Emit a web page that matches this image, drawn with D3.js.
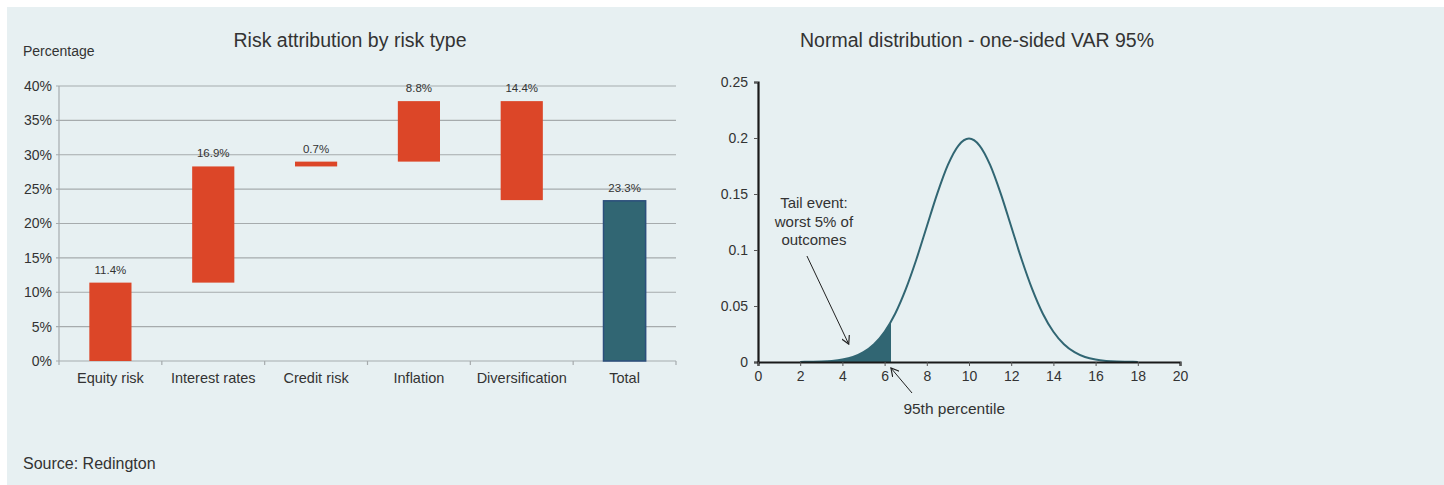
<!DOCTYPE html>
<html>
<head>
<meta charset="utf-8">
<script src="https://cdn.jsdelivr.net/npm/d3@7"></script>
<style>
body { margin: 0; background: #fff; }
text { font-family: "Liberation Sans", Arial, sans-serif; fill: #333; }
.grid line { stroke: #a6abad; stroke-width: 1.2; }
</style>
</head>
<body>
<div id="chart"></div>
<script>
// left chart data
var categories = ["Equity risk", "Interest rates", "Credit risk", "Inflation", "Diversification", "Total"];
var contributions = [11.4, 16.9, 0.7, 8.8, -14.4, 23.3];
var pctTicks = [0, 5, 10, 15, 20, 25, 30, 35, 40];

// right chart data (density)
var xs = [2, 2.5, 3, 3.5, 4, 4.5, 5, 5.5, 6, 6.5, 7, 7.5, 8, 8.5, 9, 9.5, 10,
          10.5, 11, 11.5, 12, 12.5, 13, 13.5, 14, 14.5, 15, 15.5, 16, 16.5, 17, 17.5, 18];
var density = [0.0001, 0.0002, 0.0004, 0.0010, 0.0022, 0.0045, 0.0088, 0.0159, 0.0270, 0.0431, 0.0648, 0.0913, 0.1210, 0.1506, 0.1760, 0.1933, 0.1995,
               0.1933, 0.1760, 0.1506, 0.1210, 0.0913, 0.0648, 0.0431, 0.0270, 0.0159, 0.0088, 0.0045, 0.0022, 0.0010, 0.0004, 0.0002, 0.0001];
var tailCut = 6.3;
var xTicks = [0, 2, 4, 6, 8, 10, 12, 14, 16, 18, 20];
var yTicks = [0, 0.05, 0.1, 0.15, 0.2, 0.25];

var width = 1444, height = 485;
var svg = d3.select("#chart").append("svg").attr("width", width).attr("height", height);

svg.append("rect").attr("x", 7).attr("y", 7).attr("width", width - 7).attr("height", height - 7).attr("fill", "#e7f0f2");

// ---------- waterfall ----------
var bars = [];
var run = 0;
contributions.forEach(function(v, i) {
	if (i == contributions.length - 1) {
		bars.push({ cat: categories[i], lo: 0, hi: v, label: v, total: true });
	} else {
		var a = run, b = run + v;
		bars.push({ cat: categories[i], lo: Math.min(a, b), hi: Math.max(a, b), label: Math.abs(v), total: false });
		run = b;
	}
});

var x = d3.scaleBand().domain(categories).range([59, 676]).paddingInner(0.59).paddingOuter(0.295);
var y = d3.scaleLinear().domain([0, 40]).range([361, 86]);
var step = x.step();

var left = svg.append("g");

left.append("g").attr("class", "grid")
	.selectAll("line").data(pctTicks).enter().append("line")
	.attr("x1", 56).attr("x2", 676)
	.attr("y1", function(d) { return y(d); }).attr("y2", function(d) { return y(d); });

left.append("line").attr("x1", 59).attr("x2", 59).attr("y1", y(40)).attr("y2", y(0))
	.attr("stroke", "#a6abad").attr("stroke-width", 1.2);

// band boundary ticks
left.append("g").selectAll("line").data(d3.range(categories.length + 1)).enter().append("line")
	.attr("x1", function(i) { return 59 + i * step; }).attr("x2", function(i) { return 59 + i * step; })
	.attr("y1", y(0)).attr("y2", y(0) + 4)
	.attr("stroke", "#a6abad").attr("stroke-width", 1.2);

var yAxisL = d3.axisLeft(y).tickValues(pctTicks).tickSize(0).tickPadding(7).tickFormat(function(d) { return d + "%"; });
left.append("g").attr("transform", "translate(59,0)").call(yAxisL)
	.call(function(g) { g.select(".domain").remove(); })
	.selectAll("text").style("font-size", "14px").style("fill", "#333");

var xAxisL = d3.axisBottom(x).tickSize(0).tickPadding(12);
left.append("g").attr("transform", "translate(0," + y(0) + ")").call(xAxisL)
	.call(function(g) { g.select(".domain").remove(); })
	.selectAll("text").style("font-size", "14.5px").style("fill", "#333");

left.selectAll(".bar").data(bars).enter().append("rect")
	.attr("class", "bar")
	.attr("x", function(d) { return x(d.cat); })
	.attr("width", x.bandwidth())
	.attr("y", function(d) { return y(d.hi); })
	.attr("height", function(d) { return Math.max(y(d.lo) - y(d.hi), 1); })
	.attr("fill", function(d) { return d.total ? "#316673" : "#dc4628"; })
	.attr("stroke", function(d) { return d.total ? "#2c4f7c" : "none"; })
	.attr("stroke-width", 1.5);

left.selectAll(".lbl").data(bars).enter().append("text")
	.attr("class", "lbl")
	.attr("x", function(d) { return x(d.cat) + x.bandwidth() / 2; })
	.attr("y", function(d) { return y(d.hi) - 9; })
	.attr("text-anchor", "middle")
	.style("font-size", "11.5px")
	.text(function(d) { return d.label.toFixed(1) + "%"; });

svg.append("text").attr("x", 350).attr("y", 47).attr("text-anchor", "middle")
	.style("font-size", "19.5px").text("Risk attribution by risk type");
svg.append("text").attr("x", 23).attr("y", 56).style("font-size", "14px").text("Percentage");

// ---------- normal distribution ----------
var xr = d3.scaleLinear().domain([0, 20]).range([758, 1180]);
var yr = d3.scaleLinear().domain([0, 0.25]).range([362, 82]);
var pts = xs.map(function(v, i) { return [v, density[i]]; });

var right = svg.append("g");

right.append("clipPath").attr("id", "tail").append("rect")
	.attr("x", xr(0)).attr("y", yr(0.25)).attr("width", xr(tailCut) - xr(0)).attr("height", yr(0) - yr(0.25));

right.append("path").datum(pts)
	.attr("clip-path", "url(#tail)")
	.attr("fill", "#316673")
	.attr("d", d3.area().x(function(d) { return xr(d[0]); }).y0(yr(0)).y1(function(d) { return yr(d[1]); }).curve(d3.curveMonotoneX));

right.append("path").datum(pts)
	.attr("fill", "none").attr("stroke", "#316673").attr("stroke-width", 2)
	.attr("d", d3.line().x(function(d) { return xr(d[0]); }).y(function(d) { return yr(d[1]); }).curve(d3.curveMonotoneX));

var yAxisR = d3.axisLeft(yr).tickValues(yTicks).tickSize(4).tickPadding(6).tickFormat(function(d) { return d; });
var gy = right.append("g").attr("transform", "translate(" + xr(0) + ",0)").call(yAxisR);
var xAxisR = d3.axisBottom(xr).tickValues(xTicks).tickSize(4).tickPadding(5);
var gx = right.append("g").attr("transform", "translate(0," + yr(0) + ")").call(xAxisR);
[gx, gy].forEach(function(g) {
	g.select(".domain").attr("stroke", "#1a1a1a").attr("stroke-width", 2.2);
	g.selectAll(".tick line").attr("stroke", "#555");
	g.selectAll("text").style("font-size", "14px").style("fill", "#333");
});

svg.append("text").attr("x", 977).attr("y", 47).attr("text-anchor", "middle")
	.style("font-size", "19.5px").text("Normal distribution - one-sided VAR 95%");

// annotations
var defs = svg.append("defs");
defs.append("marker").attr("id", "arr").attr("viewBox", "0 0 10 10").attr("refX", 9).attr("refY", 5)
	.attr("markerWidth", 9).attr("markerHeight", 9).attr("markerUnits", "userSpaceOnUse").attr("orient", "auto")
	.append("path").attr("d", "M0,0 L9,5 L0,10").attr("fill", "none").attr("stroke", "#222").attr("stroke-width", 1.3);

var note = svg.append("text").attr("text-anchor", "middle").style("font-size", "15px");
["Tail event:", "worst 5% of", "outcomes"].forEach(function(t, i) {
	note.append("tspan").attr("x", xr(2.65)).attr("y", 208 + i * 18.5).text(t);
});
svg.append("line").attr("x1", xr(2.32)).attr("y1", 256).attr("x2", xr(4.3)).attr("y2", yr(0.016))
	.attr("stroke", "#222").attr("stroke-width", 1).attr("marker-end", "url(#arr)");

svg.append("line").attr("x1", xr(7.3)).attr("y1", 393).attr("x2", xr(tailCut)).attr("y2", yr(0) + 6)
	.attr("stroke", "#222").attr("stroke-width", 1).attr("marker-end", "url(#arr)");
svg.append("text").attr("x", xr(9.3)).attr("y", 414).attr("text-anchor", "middle")
	.style("font-size", "15.5px").text("95th percentile");

svg.append("text").attr("x", 23).attr("y", 469).style("font-size", "16px").text("Source: Redington");
</script>
</body>
</html>
